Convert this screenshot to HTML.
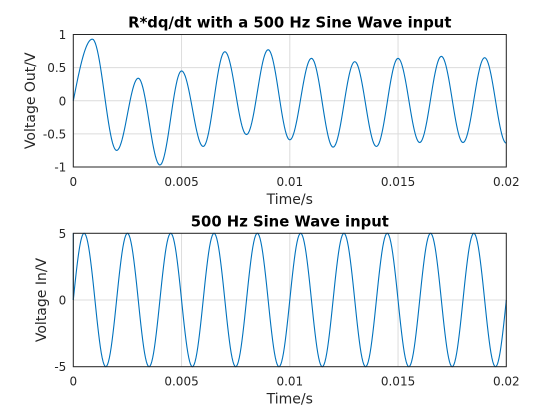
<!DOCTYPE html>
<html><head><meta charset="utf-8"><style>
html,body{margin:0;padding:0;background:#fff;}
svg{display:block;font-family:"DejaVu Sans","Liberation Sans",sans-serif;}
</style></head><body>
<svg id="fig" width="560" height="420" viewBox="0 0 560 420"></svg>
<script>
// ---- data ----
const topTimes = [0, 0.00088, 0.002, 0.003, 0.004, 0.005, 0.006, 0.007, 0.008, 0.009, 0.010, 0.011, 0.012, 0.013, 0.014, 0.015, 0.016, 0.017, 0.018, 0.019, 0.020];
const topValues = [0, 0.93, -0.75, 0.34, -0.97, 0.45, -0.69, 0.74, -0.51, 0.77, -0.59, 0.64, -0.70, 0.59, -0.69, 0.64, -0.63, 0.67, -0.63, 0.65, -0.64];
const botTimes = [0, 0.0005, 0.0015, 0.0025, 0.0035, 0.0045, 0.0055, 0.0065, 0.0075, 0.0085, 0.0095, 0.0105, 0.0115, 0.0125, 0.0135, 0.0145, 0.0155, 0.0165, 0.0175, 0.0185, 0.0195, 0.020];
const botValues = [0, 5, -5, 5, -5, 5, -5, 5, -5, 5, -5, 5, -5, 5, -5, 5, -5, 5, -5, 5, -5, 0];
const xTicks = [0, 0.005, 0.01, 0.015, 0.02];
const xTickLabels = ["0", "0.005", "0.01", "0.015", "0.02"];
const topYTicks = [-1, -0.5, 0, 0.5, 1];
const topYTickLabels = ["-1", "-0.5", "0", "0.5", "1"];
const botYTicks = [-5, 0, 5];
const botYTickLabels = ["-5", "0", "5"];

const NS = "http://www.w3.org/2000/svg";
const svg = document.getElementById("fig");
function mk(tag, attrs, parent){const e=document.createElementNS(NS,tag);for(const k in attrs)e.setAttribute(k,attrs[k]);(parent||svg).appendChild(e);return e;}

function drawAxes(o){
  const g = mk("g",{});
  
  
  const L=73.3,R=506.3,T=o.top,B=o.bottom;
  const xs=t=>L+(t-0)/(0.02)*(R-L);
  const ys=v=>B-(v-o.ymin)/(o.ymax-o.ymin)*(B-T);
  mk("rect",{x:L,y:T,width:R-L,height:B-T,fill:"#fff"},g);
  xTicks.forEach((t,i)=>{
    const l=mk("line",{x1:xs(t),x2:xs(t),y1:T,y2:B,stroke:"#dcdcdc","stroke-width":1},g);
    
    
    const tx=mk("text",{x:xs(t),y:B+19,"font-size":12,fill:"#262626","text-anchor":"middle"},g);
    tx.textContent=xTickLabels[i];
    
    
  });
  o.yticks.forEach((v,i)=>{
    const l=mk("line",{x1:L,x2:R,y1:ys(v),y2:ys(v),stroke:"#dcdcdc","stroke-width":1},g);
    
    
    const tx=mk("text",{x:L-7,y:ys(v)+4.5,"font-size":12,fill:"#262626","text-anchor":"end"},g);
    tx.textContent=o.ylabels[i];
    
    
  });
  let d="";
  for(let i=0;i<o.times.length-1;i++){
    const t0=o.times[i],t1=o.times[i+1],v0=o.values[i],v1=o.values[i+1];
    const n=24;
    for(let k=(i===0?0:1);k<=n;k++){
      const f=k/n, t=t0+(t1-t0)*f;
      let w;
      if(i===0 && v0===0) w=Math.sin(f*Math.PI/2);
      else if(i===o.times.length-2 && v1===0) w=1-Math.cos(f*Math.PI/2);
      else w=(1-Math.cos(f*Math.PI))/2;
      const v=v0+(v1-v0)*w;
      d+=(d?"L":"M")+xs(t).toFixed(2)+","+ys(v).toFixed(2);
    }
  }
  const p=mk("path",{d:d,fill:"none",stroke:"#0072BD","stroke-width":1.1},g);
  
  
  if(o.leftBlue){
    const lb=mk("line",{x1:L,x2:L,y1:T,y2:ys(0),stroke:"#0072BD","stroke-width":1},g);
    
    
  }
  const bx=mk("rect",{x:L,y:T,width:R-L,height:B-T,fill:"none",stroke:"#262626","stroke-width":1},g);
  
  
  const ti=mk("text",{x:(L+R)/2,y:T-7,"font-size":14.8,"font-weight":"bold",fill:"#000","text-anchor":"middle"},g);
  ti.textContent=o.title;
  
  
  const xl=mk("text",{x:(L+R)/2,y:B+37,"font-size":14,fill:"#262626","text-anchor":"middle"},g);
  xl.textContent="Time/s";
  
  
  const cy=(T+B)/2;
  const yl=mk("text",{x:0,y:0,"font-size":14,fill:"#262626","text-anchor":"middle",transform:`translate(${o.ylx},${cy}) rotate(-90)`},g);
  yl.textContent=o.ylabel;
  
  
}
drawAxes({name:"output-plot",top:34.5,bottom:167,ymin:-1,ymax:1,yticks:topYTicks,ylabels:topYTickLabels,times:topTimes,values:topValues,title:"R*dq/dt with a 500 Hz Sine Wave input",ylabel:"Voltage Out/V",ylx:35,seriesName:"output-voltage-line"});
drawAxes({name:"input-plot",top:233.3,bottom:366.7,ymin:-5,ymax:5,yticks:botYTicks,ylabels:botYTickLabels,times:botTimes,values:botValues,title:"500 Hz Sine Wave input",ylabel:"Voltage In/V",ylx:46,seriesName:"input-voltage-line",leftBlue:true});
</script>
</body></html>
